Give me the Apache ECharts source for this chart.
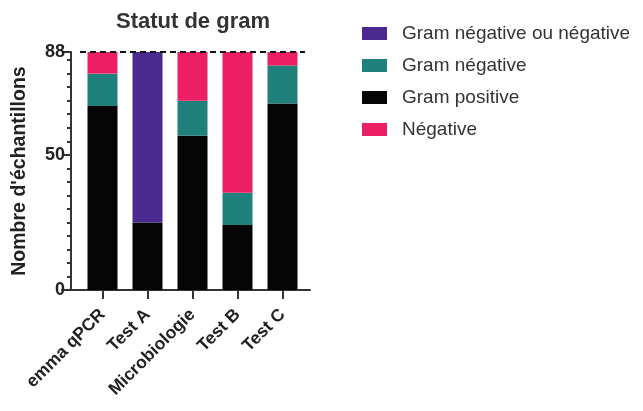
<!DOCTYPE html>
<html>
<head>
<meta charset="utf-8">
<script src="https://cdn.jsdelivr.net/npm/echarts@6/dist/echarts.min.js"></script>
<style>
  html, body { margin: 0; padding: 0; background: #fff; }
  #chart { width: 643px; height: 411px; }
</style>
</head>
<body>
<div id="chart"></div>
<script>
var categories = ['emma qPCR', 'Test A', 'Microbiologie', 'Test B', 'Test C'];
var gramPositive = [68, 25, 57, 24, 69];
var gramNegative = [12, 0, 13, 12, 14];
var gramNegOuNeg = [0, 63, 0, 0, 0];
var negative = [8, 0, 18, 52, 5];
var yMax = 88;
var yLabels = [0, 50, 88];

var font = 'Liberation Sans, Arial, sans-serif';
var minorTicks = [];
for (var v = 0; v < yMax; v += 5) minorTicks.push(v);
minorTicks.push(yMax);

var myChart = echarts.init(document.getElementById('chart'));

function bar(name, data, color) {
    return {
        name: name,
        type: 'bar',
        stack: 'total',
        barWidth: 30,
        data: data,
        itemStyle: { color: color },
        emphasis: { disabled: true }
    };
}

var series = [
    bar('Gram positive', gramPositive, '#050505'),
    bar('Gram négative', gramNegative, '#20807b'),
    bar('Gram négative ou négative', gramNegOuNeg, '#4b2a8f'),
    bar('Négative', negative, '#ec1f64')
];
// ligne pointillée au total
series[3].markLine = {
    symbol: 'none',
    silent: true,
    label: { show: false },
    lineStyle: { color: '#111', type: [6, 4], width: 2 },
    data: [{ yAxis: yMax }]
};

var option = {
    animation: false,
    textStyle: { fontFamily: font },
    title: {
        text: 'Statut de gram',
        left: 188,
        textAlign: 'center',
        top: 6,
        textStyle: { fontSize: 22, fontWeight: 'bold', color: '#333', fontFamily: font }
    },
    legend: {
        orient: 'vertical',
        left: 357,
        top: 19,
        itemWidth: 25,
        itemHeight: 13,
        itemGap: 13,
        icon: 'rect',
        data: ['Gram négative ou négative', 'Gram négative', 'Gram positive', 'Négative'],
        textStyle: { fontSize: 19, color: '#333', fontFamily: font, padding: [0, 0, 0, 10] }
    },
    grid: [
        { left: 80, top: 52, width: 225, height: 238 },
        { left: 62, top: 52, width: 248, height: 238 }
    ],
    xAxis: [{
        type: 'category',
        gridIndex: 0,
        data: categories,
        axisLine: { show: false },
        axisTick: { show: true, alignWithLabel: true, length: 9, lineStyle: { color: '#333', width: 2 } },
        axisLabel: {
            rotate: 45,
            interval: 0,
            margin: 22,
            fontSize: 17.5,
            fontWeight: 'bold',
            color: '#222',
            fontFamily: font
        }
    }, {
        type: 'value',
        gridIndex: 1,
        min: 0,
        max: 1,
        axisLine: { show: true, lineStyle: { color: '#333', width: 2 } },
        axisTick: { show: false },
        axisLabel: { show: false },
        splitLine: { show: false }
    }],
    yAxis: [{
        type: 'value',
        gridIndex: 0,
        position: 'left',
        min: 0,
        max: yMax,
        offset: 9,
        name: "Nombre d'échantillons",
        nameLocation: 'middle',
        nameGap: 41,
        nameTextStyle: { fontSize: 19.5, fontWeight: 'bold', color: '#222', fontFamily: font },
        axisLine: { show: true, lineStyle: { color: '#333', width: 2 } },
        axisTick: { show: true, length: 8, customValues: yLabels, lineStyle: { color: '#333', width: 2 } },
        axisLabel: { customValues: yLabels, fontSize: 18, fontWeight: 'bold', color: '#222', margin: 6, fontFamily: font },
        splitLine: { show: false }
    }, {
        type: 'value',
        gridIndex: 0,
        position: 'left',
        min: 0,
        max: yMax,
        offset: 9,
        axisLine: { show: false },
        axisTick: { show: true, length: 4, customValues: minorTicks, lineStyle: { color: '#333', width: 2 } },
        axisLabel: { show: false },
        splitLine: { show: false }
    }, {
        type: 'value',
        gridIndex: 1,
        show: false
    }],
    series: series
};

myChart.setOption(option);
</script>
</body>
</html>
